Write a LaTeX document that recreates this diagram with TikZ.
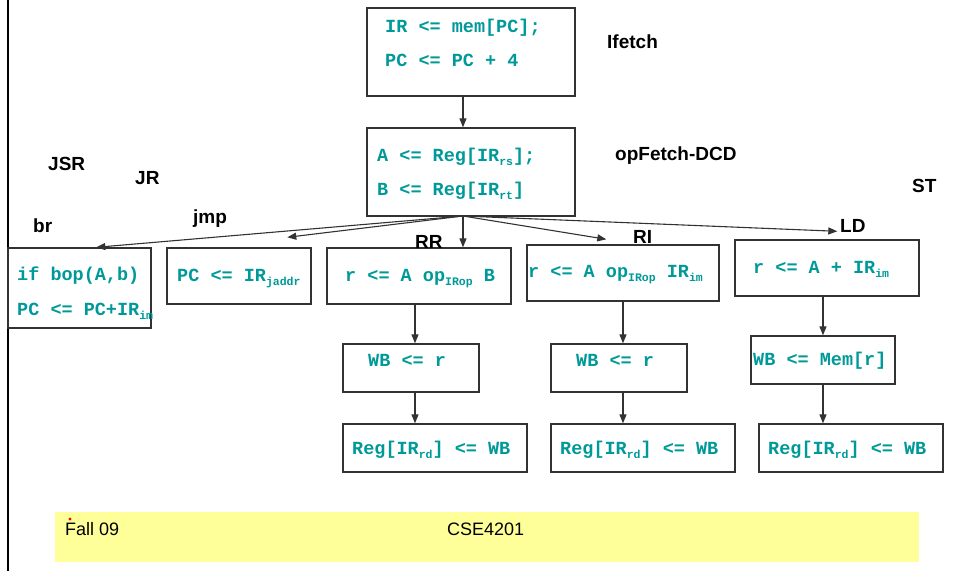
\documentclass[tikz,border=0pt]{standalone}
\usepackage{fontspec}
\setmainfont{Liberation Sans}
\newfontfamily\codefont{Liberation Mono}
\usetikzlibrary{arrows.meta,fit}
\definecolor{codeteal}{RGB}{0,153,153}
\definecolor{footyellow}{RGB}{255,255,153}
\definecolor{linegray}{RGB}{50,50,50}
\newcommand\sbx[1]{\raisebox{-4pt}{\fontsize{11.5}{12}\selectfont #1}}
\tikzset{
  box/.style={draw=linegray, line width=1.4pt, inner sep=0pt, fill=none},
  code/.style={anchor=base west, inner sep=0pt, text=codeteal,
    font=\codefont\bfseries\fontsize{18.5}{20}\selectfont},
  lbl/.style={anchor=base west, inner sep=0pt,
    font=\bfseries\fontsize{19}{21}\selectfont},
  foot/.style={anchor=base west, inner sep=0pt,
    font=\fontsize{18}{20}\selectfont},
  arr/.style={draw=linegray, line width=1.1pt, -{Triangle[length=9pt,width=7pt]}}
}
\begin{document}
\begin{tikzpicture}[x=1pt,y=-1pt]
\useasboundingbox (0,0) rectangle (954,571);
% left rule
\draw[line width=2pt] (8,0) -- (8,571);
% footer
\fill[footyellow] (55,512) rectangle (919,562);
\node[foot] (fall) at (65,535) {Fall 09};
\node[foot] (cse) at (447,535) {CSE4201};
\fill[red] (70,519) circle (1.6pt);
% boxes
\node[box, fit={(367,8) (575,96)}] (ifetch) {};
\node[box, fit={(367,128) (575,216)}] (opf) {};
\node[box, fit={(8,248) (151,328)}] (br) {};
\node[box, fit={(167,248) (311,304)}] (jmp) {};
\node[box, fit={(327,248) (511,304)}] (rr) {};
\node[box, fit={(343,344) (479,392)}] (rrwb) {};
\node[box, fit={(343,424) (527,472)}] (rrreg) {};
\node[box, fit={(527,245) (719,301)}] (ri) {};
\node[box, fit={(551,344) (687,392)}] (riwb) {};
\node[box, fit={(551,424) (735,472)}] (rireg) {};
\node[box, fit={(735,240) (919,296)}] (ld) {};
\node[box, fit={(751,336) (895,384)}] (ldwb) {};
\node[box, fit={(759,424) (943,472)}] (ldreg) {};
% code text
\node[code] (t1) at (385,32) {IR <= mem[PC];};
\node[code] (t2) at (385,66) {PC <= PC + 4};
\node[code] (t3) at (377,161) {A <= Reg[IR\sbx{rs}];};
\node[code] (t4) at (377,195) {B <= Reg[IR\sbx{rt}]};
\node[code] (t5) at (17,280) {if bop(A,b)};
\node[code] (t6) at (17,315) {PC <= PC+IR\sbx{im}};
\node[code] (t7) at (177,281) {PC <= IR\sbx{jaddr}};
\node[code] (t8) at (345,281) {r <= A op\sbx{IRop} B};
\node[code] (t9) at (368,366) {WB <= r};
\node[code] (t10) at (352,454) {Reg[IR\sbx{rd}] <= WB};
\node[code] (t11) at (528,277) {r <= A op\sbx{IRop} IR\sbx{im}};
\node[code] (t12) at (576,366) {WB <= r};
\node[code] (t13) at (560,454) {Reg[IR\sbx{rd}] <= WB};
\node[code] (t14) at (753,273) {r <= A + IR\sbx{im}};
\node[code] (t15) at (753,365) {WB <= Mem[r]};
\node[code] (t16) at (768,454) {Reg[IR\sbx{rd}] <= WB};
% labels
\node[lbl] (lifetch) at (607,48) {Ifetch};
\node[lbl] (lopf) at (615,160) {opFetch-DCD};
\node[lbl] (ljsr) at (48,170) {JSR};
\node[lbl] (ljr) at (135,184) {JR};
\node[lbl] (lst) at (912,192) {ST};
\node[lbl] (lbr) at (33,232) {br};
\node[lbl] (ljmp) at (193,223) {jmp};
\node[lbl] (lrr) at (415,248) {RR};
\node[lbl] (lri) at (633,243) {RI};
\node[lbl] (lld) at (840,232) {LD};
% connectors
\coordinate (fan) at (463,216);
\coordinate (topx) at (463,0);
\coordinate (rrx) at (415,0);
\coordinate (rix) at (623,0);
\coordinate (ldx) at (823,0);
\draw[arr] (ifetch.south -| topx) -- (opf.north -| topx);
\draw[arr] (fan) -- ([xshift=89pt]br.north west);
\draw[arr] (fan) -- ([xshift=121pt,yshift=10pt]jmp.north west);
\draw[arr] (fan) -- (rr.north -| topx);
\draw[arr] (fan) -- ([xshift=80pt,yshift=5pt]ri.north west);
\draw[arr] (fan) -- ([xshift=103pt,yshift=8pt]ld.north west);
\draw[arr] (rr.south -| rrx) -- (rrwb.north -| rrx);
\draw[arr] (rrwb.south -| rrx) -- (rrreg.north -| rrx);
\draw[arr] (ri.south -| rix) -- (riwb.north -| rix);
\draw[arr] (riwb.south -| rix) -- (rireg.north -| rix);
\draw[arr] (ld.south -| ldx) -- (ldwb.north -| ldx);
\draw[arr] (ldwb.south -| ldx) -- (ldreg.north -| ldx);
\end{tikzpicture}
\end{document}
